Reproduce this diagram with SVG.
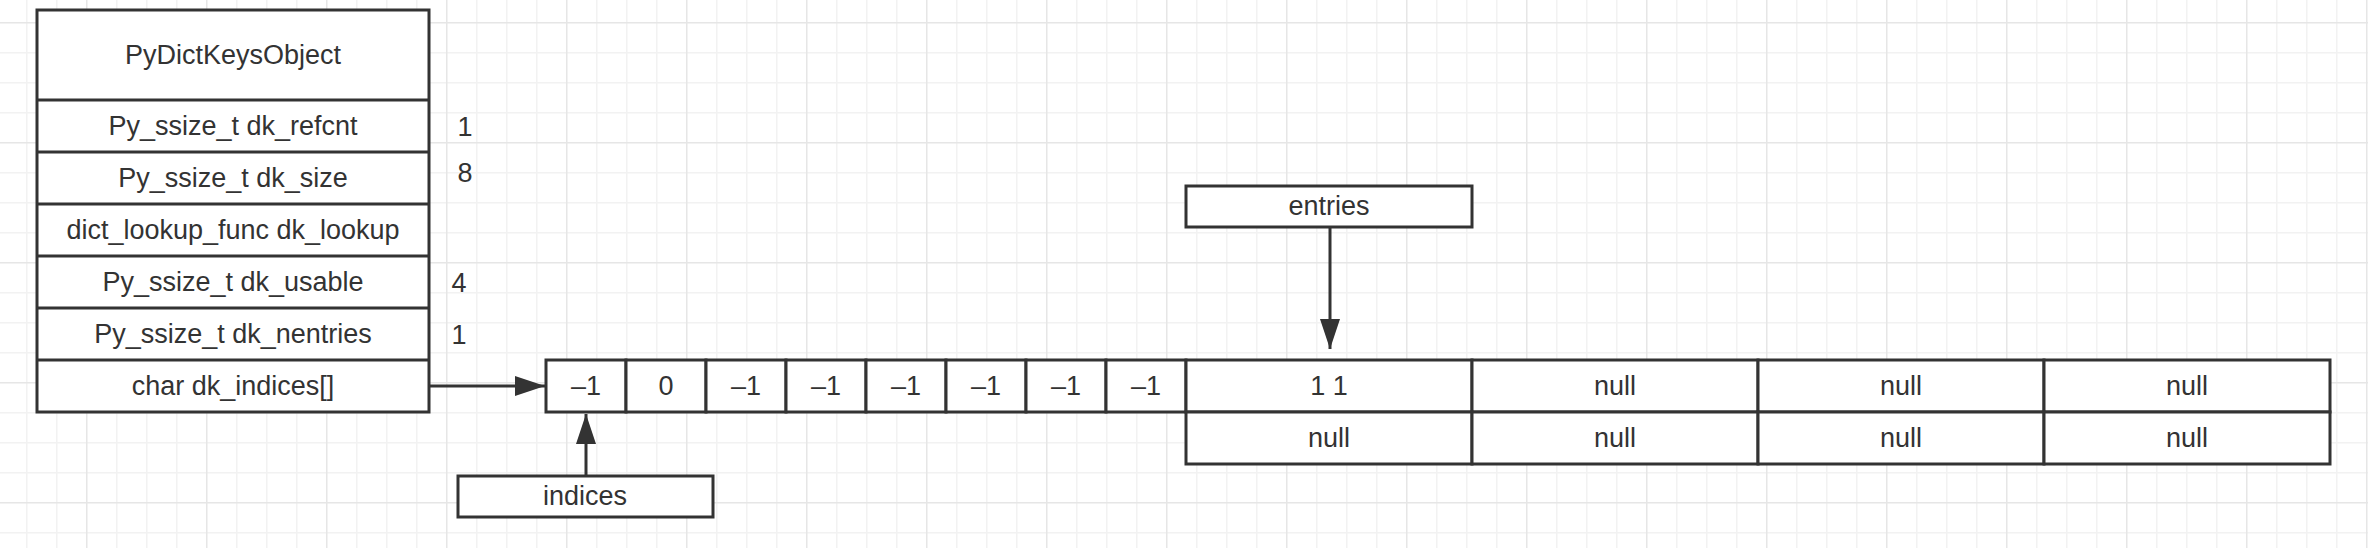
<svg xmlns="http://www.w3.org/2000/svg" width="2368" height="548" viewBox="0 0 2368 548">
<defs>
<pattern id="grid" patternUnits="userSpaceOnUse" x="86" y="22" width="120" height="120">
<rect x="0" y="0" width="120" height="120" fill="#ffffff"/>
<rect x="30" y="0" width="1.5" height="120" fill="#f2f2f2"/>
<rect x="60" y="0" width="1.5" height="120" fill="#f2f2f2"/>
<rect x="90" y="0" width="1.5" height="120" fill="#f2f2f2"/>
<rect x="0" y="30" width="120" height="1.5" fill="#f2f2f2"/>
<rect x="0" y="60" width="120" height="1.5" fill="#f2f2f2"/>
<rect x="0" y="90" width="120" height="1.5" fill="#f2f2f2"/>
<rect x="0" y="0" width="1.5" height="120" fill="#e6e6e6"/>
<rect x="0" y="0" width="120" height="1.5" fill="#e6e6e6"/>
</pattern>
<marker id="block" markerUnits="userSpaceOnUse" markerWidth="30" markerHeight="20" refX="30" refY="10" orient="auto">
<path d="M0,0 L30,10 L0,20 Z" fill="#333333"/>
</marker>
<style>
.box{fill:#ffffff;stroke:#333333;stroke-width:3}
.sep{stroke:#333333;stroke-width:3}
.t{font-family:"Liberation Sans",Arial,sans-serif;font-size:27px;fill:#333333;text-anchor:middle;dominant-baseline:central}
.conn{stroke:#333333;stroke-width:3;fill:none;marker-end:url(#block)}
</style>
</defs>
<rect x="0" y="0" width="2368" height="548" fill="url(#grid)"/>

<g id="PyDictKeysObject">
<rect class="box" x="37" y="10" width="392" height="402"/>
<line class="sep" x1="37" y1="100" x2="429" y2="100"/>
<line class="sep" x1="37" y1="152" x2="429" y2="152"/>
<line class="sep" x1="37" y1="204" x2="429" y2="204"/>
<line class="sep" x1="37" y1="256" x2="429" y2="256"/>
<line class="sep" x1="37" y1="308" x2="429" y2="308"/>
<line class="sep" x1="37" y1="360" x2="429" y2="360"/>
<text class="t" x="233" y="55">PyDictKeysObject</text>
<text class="t" x="233" y="126">Py_ssize_t dk_refcnt</text>
<text class="t" x="233" y="178">Py_ssize_t dk_size</text>
<text class="t" x="233" y="230">dict_lookup_func dk_lookup</text>
<text class="t" x="233" y="282">Py_ssize_t dk_usable</text>
<text class="t" x="233" y="334">Py_ssize_t dk_nentries</text>
<text class="t" x="233" y="386">char dk_indices[]</text>
</g>

<g id="values">
<text class="t" x="465" y="127">1</text>
<text class="t" x="465" y="173">8</text>
<text class="t" x="459" y="283">4</text>
<text class="t" x="459" y="335">1</text>
</g>

<g id="indices-array">
<rect class="box" x="546" y="360" width="80" height="52"/>
<rect class="box" x="626" y="360" width="80" height="52"/>
<rect class="box" x="706" y="360" width="80" height="52"/>
<rect class="box" x="786" y="360" width="80" height="52"/>
<rect class="box" x="866" y="360" width="80" height="52"/>
<rect class="box" x="946" y="360" width="80" height="52"/>
<rect class="box" x="1026" y="360" width="80" height="52"/>
<rect class="box" x="1106" y="360" width="80" height="52"/>
<text class="t" x="586" y="386">–1</text>
<text class="t" x="666" y="386">0</text>
<text class="t" x="746" y="386">–1</text>
<text class="t" x="826" y="386">–1</text>
<text class="t" x="906" y="386">–1</text>
<text class="t" x="986" y="386">–1</text>
<text class="t" x="1066" y="386">–1</text>
<text class="t" x="1146" y="386">–1</text>
</g>

<g id="entries-array">
<rect class="box" x="1186" y="360" width="286" height="52"/>
<rect class="box" x="1472" y="360" width="286" height="52"/>
<rect class="box" x="1758" y="360" width="286" height="52"/>
<rect class="box" x="2044" y="360" width="286" height="52"/>
<rect class="box" x="1186" y="412" width="286" height="52"/>
<rect class="box" x="1472" y="412" width="286" height="52"/>
<rect class="box" x="1758" y="412" width="286" height="52"/>
<rect class="box" x="2044" y="412" width="286" height="52"/>
<text class="t" x="1329" y="386">1 1</text>
<text class="t" x="1615" y="386">null</text>
<text class="t" x="1901" y="386">null</text>
<text class="t" x="2187" y="386">null</text>
<text class="t" x="1329" y="438">null</text>
<text class="t" x="1615" y="438">null</text>
<text class="t" x="1901" y="438">null</text>
<text class="t" x="2187" y="438">null</text>
</g>

<g id="entries-label">
<rect class="box" x="1186" y="186" width="286" height="41"/>
<text class="t" x="1329" y="206">entries</text>
</g>

<g id="indices-label">
<rect class="box" x="458" y="476" width="255" height="41"/>
<text class="t" x="585" y="496">indices</text>
</g>

<g id="connectors">
<line class="conn" x1="429" y1="386" x2="545" y2="386"/>
<line class="conn" x1="586" y1="476" x2="586" y2="414"/>
<line class="conn" x1="1330" y1="227" x2="1330" y2="349"/>
</g>
</svg>
